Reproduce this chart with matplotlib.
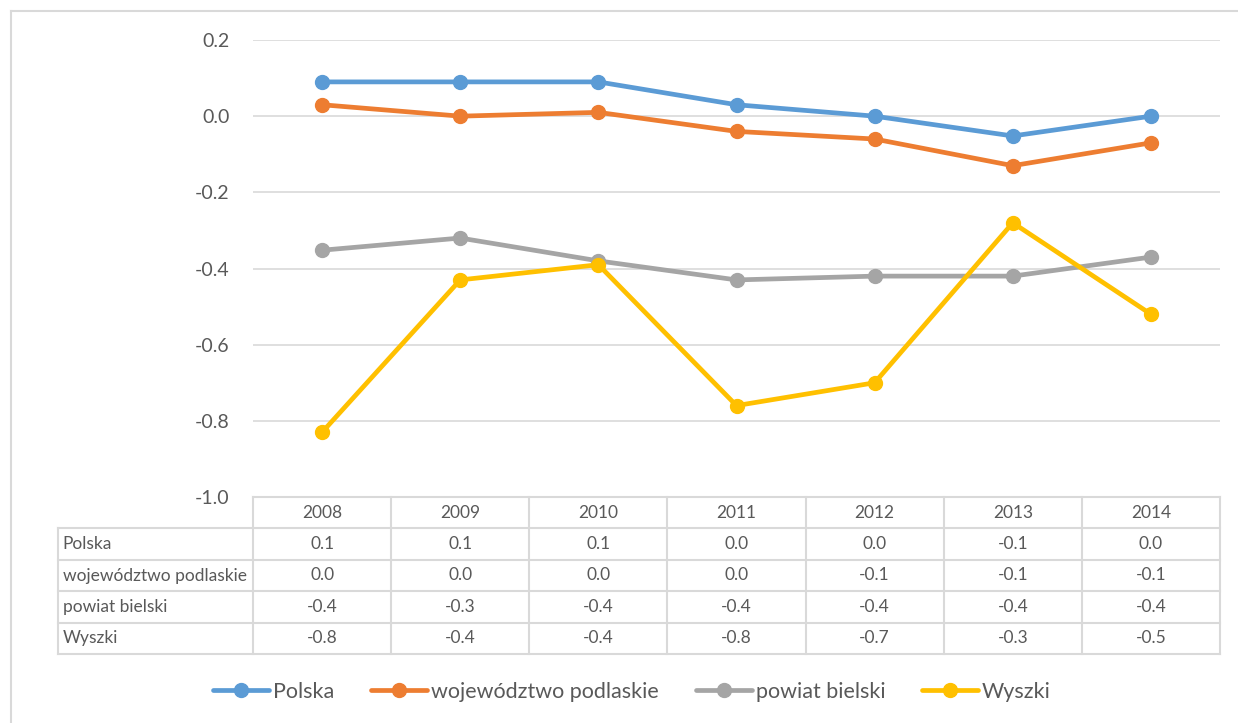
import matplotlib
matplotlib.use("Agg")
import matplotlib.pyplot as plt
from matplotlib.lines import Line2D

plt.rcParams['font.family'] = ['Lato', 'DejaVu Sans']

years = ["2008", "2009", "2010", "2011", "2012", "2013", "2014"]
series_names = ["Polska", "województwo podlaskie", "powiat bielski", "Wyszki"]
polska = [0.09, 0.09, 0.09, 0.03, 0.00, -0.052, 0.00]
podlaskie = [0.03, 0.00, 0.01, -0.04, -0.06, -0.13, -0.07]
bielski = [-0.352, -0.32, -0.38, -0.43, -0.42, -0.42, -0.37]
wyszki = [-0.83, -0.43, -0.39, -0.76, -0.70, -0.28, -0.52]
colors = ["#5B9BD5", "#ED7D31", "#A5A5A5", "#FFC000"]
yticks = [0.2, 0.0, -0.2, -0.4, -0.6, -0.8, -1.0]

W, H = 1238, 723
txt = "#595959"
grid = "#D9D9D9"

fig = plt.figure(figsize=(W / 100, H / 100), dpi=100)
ax = fig.add_axes([253 / W, 1 - 497 / H, (1220 - 253) / W, (497 - 40) / H])

x = list(range(len(years)))
all_series = [polska, podlaskie, bielski, wyszki]
for vals, name, c in zip(all_series, series_names, colors):
    ax.plot(x, vals, color=c, lw=3.4, marker="o", ms=10, label=name,
            solid_capstyle="round", zorder=3)

ax.set_xlim(-0.5, len(years) - 0.5)
ax.set_ylim(-1.0, 0.2)
ax.set_yticks(yticks)
ax.set_yticklabels([f"{t:.1f}" for t in yticks])
ax.set_xticks([])
ax.tick_params(axis="y", length=0, pad=17, labelsize=14, labelcolor=txt)
ax.grid(axis="y", color=grid, lw=1.2)
ax.set_axisbelow(True)
for s in ax.spines.values():
    s.set_visible(False)

# data table under the plot
rh = 31.4 / 457
lab_w = (253 - 57.5) / 967
n = len(years)
cw = 1 / n
tr = ax.transAxes
nrows = len(series_names)
tfs = 12.5


def tline(xs, ys):
    ax.add_line(Line2D(xs, ys, transform=tr, color=grid, lw=1.5, clip_on=False))


tline([0, 1], [0, 0])
for r in range(1, nrows + 2):
    tline([-lab_w, 1], [-r * rh, -r * rh])
tline([-lab_w, -lab_w], [-rh, -(nrows + 1) * rh])
for k in range(n + 1):
    tline([k * cw, k * cw], [0, -(nrows + 1) * rh])

for i, yr in enumerate(years):
    ax.text((i + 0.5) * cw, -0.5 * rh, yr, transform=tr, ha="center", va="center",
            fontsize=tfs, color=txt)
for r, (name, vals) in enumerate(zip(series_names, all_series)):
    yc = -(r + 1.5) * rh
    ax.text(-lab_w + 5 / 967, yc, name, transform=tr, ha="left", va="center",
            fontsize=tfs, color=txt)
    for i, v in enumerate(vals):
        ax.text((i + 0.5) * cw, yc, f"{round(v, 1) + 0.0:.1f}", transform=tr,
                ha="center", va="center", fontsize=tfs, color=txt)

# outer chart frame
fig.add_artist(Line2D([11 / W, 1], [1 - 11 / H, 1 - 11 / H], transform=fig.transFigure,
                      color=grid, lw=1.5))
fig.add_artist(Line2D([11 / W, 11 / W], [0, 1 - 11 / H], transform=fig.transFigure,
                      color=grid, lw=1.5))

leg = fig.legend(loc="center", bbox_to_anchor=(632 / W, 1 - 692 / H), ncol=4,
                 frameon=False, fontsize=15.5, handlelength=2.6, handletextpad=0.19,
                 columnspacing=1.7, labelcolor=txt, borderpad=0)

fig.savefig("out.png", dpi=100)
